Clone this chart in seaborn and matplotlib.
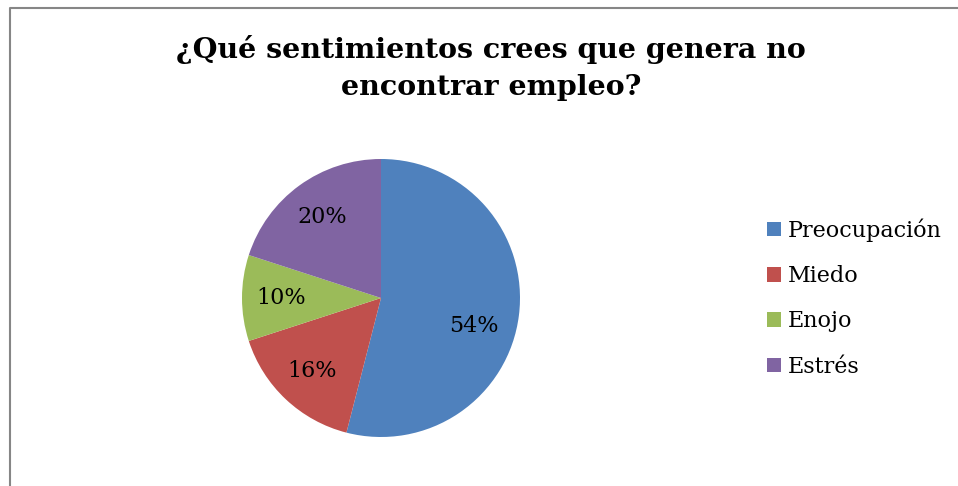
import matplotlib
matplotlib.use("Agg")
import matplotlib.pyplot as plt
import seaborn as sns
from matplotlib.lines import Line2D

categories = ["Preocupación", "Miedo", "Enojo", "Estrés"]
percentages = [54, 16, 10, 20]
colors = ["#4F81BD", "#C0504D", "#9BBB59", "#8064A2"]
title = "¿Qué sentimientos crees que genera no\nencontrar empleo?"

sns.set_style("white")
plt.rcParams['font.family'] = ['DejaVu Serif']
plt.rcParams['text.color'] = 'black'

fig = plt.figure(figsize=(9.58, 4.86), dpi=100)
ax = fig.add_axes([242/958, 49/486, 278/958, 278/486])

wedges, texts, autotexts = ax.pie(percentages, colors=colors, startangle=90,
                                  counterclock=False, autopct='%d%%',
                                  pctdistance=0.72,
                                  wedgeprops={'linewidth': 0},
                                  textprops={'fontsize': 16, 'color': 'black'})
ax.set_xlim(-1, 1)
ax.set_ylim(-1, 1)
ax.set_aspect('equal')
# excel places the big label a bit lower
autotexts[0].set_position((0.67, -0.20))

fig.text(491/958, 1 - 68/486, title, ha='center', va='center', fontsize=20.5,
         fontweight='bold', linespacing=1.5, color='black')

leg = ax.legend(wedges, categories, loc='center left',
                bbox_to_anchor=(758/958, 188/486), bbox_transform=fig.transFigure,
                frameon=False, fontsize=16, handlelength=0.65, handleheight=0.65,
                handletextpad=0.3, labelspacing=1.05, borderaxespad=0)
for t in leg.get_texts():
    t.set_color('black')

# chart border (left and top only visible)
fig.add_artist(Line2D([10/958, 10/958, 1], [0, 1 - 8/486, 1 - 8/486],
                      transform=fig.transFigure, color='#868686', lw=1.5))

fig.savefig("out.png", dpi=100, facecolor='white')
